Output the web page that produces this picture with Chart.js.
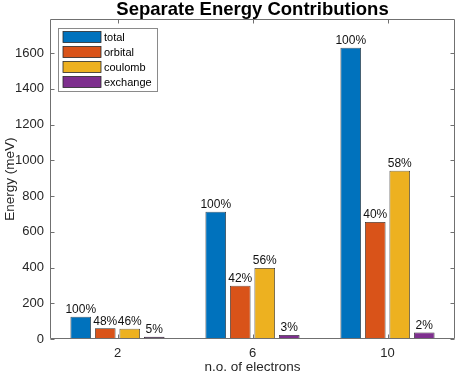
<!DOCTYPE html>
<html>
<head>
<meta charset="utf-8">
<script src="https://cdn.jsdelivr.net/npm/chart.js@4/dist/chart.umd.min.js"></script>
<style>
html,body{margin:0;padding:0;background:#fff;}
canvas{display:block;}
</style>
</head>
<body>
<canvas id="c" width="456" height="375"></canvas>
<script>
// ---- data ----
const categories = ['2', '6', '10'];
const seriesNames = ['total', 'orbital', 'coulomb', 'exchange'];
const totalVals = [125, 712, 1630];
const orbitalVals = [60, 298, 655];
const coulombVals = [58, 397, 942];
const exchangeVals = [12, 22, 37];
const totalLabels = ['100%', '100%', '100%'];
const orbitalLabels = ['48%', '42%', '40%'];
const coulombLabels = ['46%', '56%', '58%'];
const exchangeLabels = ['5%', '3%', '2%'];
const yTicks = [0, 200, 400, 600, 800, 1000, 1200, 1400, 1600];

const colors = ['#0072BD', '#D95319', '#EDB120', '#7E2F8E'];
const FONT = "'Liberation Sans', Arial, Helvetica, sans-serif";
const AXC = '#262626';

const valueSets = [totalVals, orbitalVals, coulombVals, exchangeVals];
const labelSets = [totalLabels, orbitalLabels, coulombLabels, exchangeLabels];

const datasets = seriesNames.map((n, i) => ({
  label: n,
  data: valueSets[i],
  pctLabels: labelSets[i],
  backgroundColor: colors[i],
  borderColor: '#2a2a2a',
  borderWidth: 0.8,
  categoryPercentage: 0.726,
  barPercentage: 0.84
}));

const framePlugin = {
  id: 'frame',
  afterDatasetsDraw(chart) {
    const ctx = chart.ctx;
    ctx.save();
    ctx.font = '12px ' + FONT;
    ctx.fillStyle = '#111';
    ctx.textAlign = 'center';
    ctx.textBaseline = 'bottom';
    chart.data.datasets.forEach((ds, di) => {
      const meta = chart.getDatasetMeta(di);
      meta.data.forEach((el, i) => {
        ctx.fillText(ds.pctLabels[i], el.x, el.y - 1);
      });
    });
    ctx.restore();
  },
  afterDraw(chart) {
    const ctx = chart.ctx;
    const a = chart.chartArea;
    const ys = chart.scales.y, xs = chart.scales.x;
    ctx.save();
    ctx.strokeStyle = '#707070';
    ctx.lineWidth = 1;
    const L = Math.round(a.left) + 0.5, R = Math.round(a.right) - 0.5;
    const T = Math.round(a.top) + 0.5, B = Math.round(a.bottom) - 0.5;
    ctx.beginPath();
    ctx.rect(L, T, R - L, B - T);
    ctx.stroke();
    ctx.beginPath();
    const tl = 4;
    ys.ticks.forEach(t => {
      const y = Math.round(ys.getPixelForValue(t.value)) + 0.5;
      ctx.moveTo(L, y); ctx.lineTo(L + tl, y);
      ctx.moveTo(R, y); ctx.lineTo(R - tl, y);
    });
    xs.ticks.forEach((t, i) => {
      const x = Math.round(xs.getPixelForTick(i)) + 0.5;
      ctx.moveTo(x, B); ctx.lineTo(x, B - tl);
      ctx.moveTo(x, T); ctx.lineTo(x, T + tl);
    });
    ctx.stroke();

    // legend
    const lx = 58.5, ly = 28.5, lw = 99, lh = 63;
    ctx.fillStyle = '#fff';
    ctx.fillRect(lx, ly, lw, lh);
    ctx.strokeStyle = '#8a8a8a';
    ctx.strokeRect(lx, ly, lw, lh);
    ctx.font = '11px ' + FONT;
    ctx.textBaseline = 'middle';
    ctx.textAlign = 'left';
    chart.data.datasets.forEach((ds, i) => {
      const cy = 37 + i * 15;
      ctx.fillStyle = ds.backgroundColor;
      ctx.fillRect(63, cy - 5.5, 38, 11);
      ctx.strokeStyle = '#2a2a2a';
      ctx.lineWidth = 0.8;
      ctx.strokeRect(63, cy - 5.5, 38, 11);
      ctx.fillStyle = '#000';
      ctx.fillText(ds.label, 104, cy + 0.5);
    });
    ctx.restore();
  }
};

new Chart(document.getElementById('c'), {
  type: 'bar',
  data: { labels: categories, datasets },
  options: {
    responsive: false,
    animation: false,
    layout: { padding: { top: 0, right: 1, left: 0, bottom: 0 } },
    plugins: {
      legend: { display: false },
      tooltip: { enabled: false },
      title: {
        display: true,
        fullSize: false,
        text: 'Separate Energy Contributions',
        color: '#000',
        font: { family: FONT, size: 18.5, weight: 'bold', lineHeight: 1.03 },
        padding: { top: 0, bottom: 0 }
      }
    },
    scales: {
      x: {
        offset: true,
        grid: { display: false, drawTicks: false },
        border: { display: false },
        ticks: { color: AXC, padding: 7, font: { family: FONT, size: 13 } },
        title: { display: true, text: 'n.o. of electrons', color: AXC,
                 font: { family: FONT, size: 13.5 }, padding: { top: 0, bottom: 0 } },
        afterFit(s) { s.height = 36; }
      },
      y: {
        min: 0, max: 1790,
        grid: { display: false, drawTicks: false },
        border: { display: false },
        ticks: { color: AXC, padding: 6, stepSize: 200, font: { family: FONT, size: 13 },
                 callback: v => String(v) },
        afterBuildTicks(s) { s.ticks = yTicks.map(v => ({ value: v })); },
        title: { display: true, text: 'Energy (meV)', color: AXC,
                 font: { family: FONT, size: 13.5 }, padding: { top: 2, bottom: 0 } },
        afterFit(s) { s.width = 50; }
      }
    }
  },
  plugins: [framePlugin]
});
</script>
</body>
</html>
